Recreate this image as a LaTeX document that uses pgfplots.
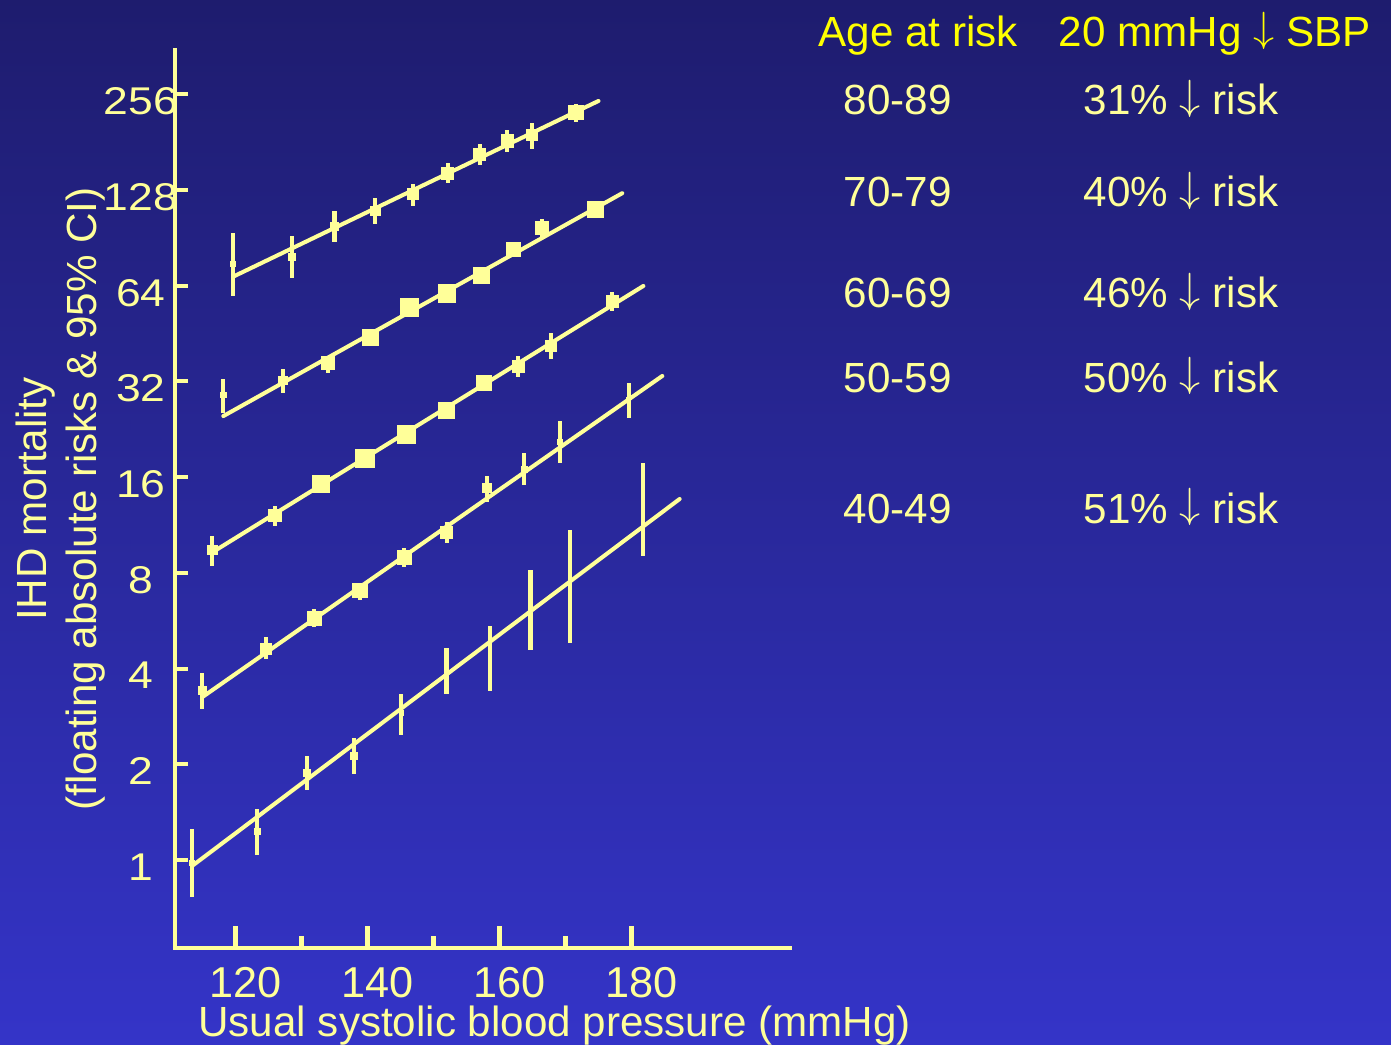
\documentclass[border=0pt]{standalone}
\usepackage{pgfplots}
\pgfplotsset{compat=1.18}
\usepackage{pgfplotstable}
\usepackage{fontspec}
\setmainfont{Liberation Sans}
\definecolor{yel}{HTML}{FFFF99}
\definecolor{hdr}{HTML}{FFFF00}
\definecolor{bgtop}{HTML}{1E1C6E}
\definecolor{bgmid}{HTML}{2929A0}
\definecolor{bgbot}{HTML}{3434C8}

% x = SBP, y = IHD mortality, lo/hi = 95% CI, w = marker width (px)
\pgfplotstableread{
x y lo hi w
119.67 74.8 59.4 93.6 5
128.6 79.0 67.6 92.0 7
135.0 98.2 87.7 110.0 8
141.2 110.0 100.1 120.6 10
146.9 124.2 114.3 133.8 12
152.15 144.6 134.5 156.1 13
157.0 165.4 153.5 178.4 13
161.2 182.7 168.3 197.8 13
164.9 190.8 172.8 207.7 12
171.6 224.2 209.2 238.8 15
}\tabE
\pgfplotstableread{
x y lo hi w
118.15 29.0 25.4 32.5 6
127.24 32.2 29.4 35.0 9
134.06 36.5 34.1 38.6 14
140.5 44.1 42.8 45.4 17
146.4 54.8 53.2 56.4 19
152.05 60.6 58.8 62.4 19
157.3 68.9 66.8 71.0 17
162.1 83.0 80.5 85.5 15
166.4 97.1 90.9 103.6 14
174.5 110.8 107.5 114.1 17
}\tabS
\pgfplotstableread{
x y lo hi w
116.5 9.44 8.43 10.47 10
125.98 12.1 11.24 12.99 13
132.95 15.2 14.7 15.7 18
139.6 18.3 17.8 18.8 20
145.9 21.8 21.2 22.4 19
152.0 25.9 25.1 26.7 17
157.65 31.6 30.6 32.6 16
162.85 35.6 33.0 38.5 13
167.76 41.4 37.6 45.4 12
177.1 57.0 53.3 61.3 13
}\tabX
\pgfplotstableread{
x y lo hi w
114.97 3.41 2.98 3.87 8
124.6 4.60 4.28 5.04 12
131.94 5.76 5.40 6.15 15
138.86 7.02 6.57 7.42 15
145.58 8.96 8.37 9.56 15
152.0 10.73 9.91 11.59 13
158.06 14.77 13.4 16.17 9
163.76 16.94 15.13 19.1 6
169.17 20.7 17.77 24.0 5
179.6 28.0 24.5 31.6 4
}\tabF
\pgfplotstableread{
x y lo hi w
113.4 0.978 0.763 1.249 5
123.3 1.231 1.037 1.443 6
130.8 1.879 1.663 2.124 7
138.0 2.124 1.866 2.42 7
145.1 2.90 2.473 3.319 4
151.97 3.92 3.326 4.65 4
158.5 4.30 3.41 5.43 3
164.7 6.04 4.56 8.17 3
170.67 7.50 4.80 10.93 3
181.8 11.37 9.07 17.67 3
}\tabV

\pgfplotsset{
  ptstyle/.style={
    only marks, mark=square*, scatter,
    scatter/use mapped color={draw=yel, fill=yel},
    visualization depends on={\thisrow{w}*0.13 \as \ms},
    scatter/@pre marker code/.append style={/tikz/mark size=\ms pt, /tikz/line width=0.2pt},
    error bars/y dir=both, error bars/y explicit, error bars/error mark=none,
    error bars/error bar style={line width=1.15pt, color=yel},
  },
  fitstyle/.style={yel, line width=1.15pt, line cap=round, no marks},
}
\newcommand{\pts}[1]{\addplot[ptstyle] table[x=x, y=y, y error plus expr=\thisrow{hi}-\thisrow{y}, y error minus expr=\thisrow{y}-\thisrow{lo}]{#1};}
\newcommand{\dn}{\raisebox{0.12em}{$\downarrow$}}

\begin{document}
\begin{tikzpicture}[x=1cm,y=1cm]
\useasboundingbox (0,0) rectangle (13.91,10.44);
\shade[top color=bgtop, middle color=bgmid, bottom color=bgbot] (0,0) rectangle (13.91,10.44);
\begin{axis}[
  at={(1.75cm,0.96cm)}, anchor=south west,
  scale only axis, width=6.15cm, height=8.98cm,
  clip=false,
  /pgf/number format/assume math mode=true,
  xmin=110.83, xmax=204.02,
  ymode=log, log basis y=2, ymin=0.5287, ymax=353,
  axis lines=left, axis line style={-, line width=1.15pt, color=yel, line cap=rect},
  tick align=inside,
  xtick={120,140,160,180}, minor xtick={130,150,170},
  major tick length=0.22cm, minor tick length=0.12cm,
  tick style={line width=1.15pt, color=yel},
  minor tick style={line width=1.15pt, color=yel},
  xticklabel style={font=\fontsize{12.3}{14}\selectfont, color=yel, anchor=base, inner sep=0pt, yshift=-0.49cm, xshift=0.1cm},
  ytick=\empty,
  extra y ticks={1,2,4,8,16,32,64,128,256},
  extra y tick labels={1,2,4,8,16,32,64,128,256},
  extra y tick style={major tick length=0.13cm, tick style={line width=1.15pt, color=yel},
    yticklabel style={font=\fontsize{11}{13}\selectfont, color=yel, anchor=center, xshift=-0.34cm, yshift=-0.07cm, xscale=1.15}},
  xlabel={Usual systolic blood pressure (mmHg)},
  every axis x label/.style={at={(axis description cs:0.6174,-0.099)}, anchor=base, inner sep=0pt, font=\fontsize{12}{14}\selectfont, color=yel},
  ylabel={IHD mortality\\(floating absolute risks \& 95\% CI)},
  every axis y label/.style={at={(axis description cs:-0.1854,0.5)}, rotate=90, anchor=center, align=center, font=\fontsize{12}{14.2}\selectfont, color=yel},
]
% fitted lines
\addplot[fitstyle] coordinates {(119.67,68.4) (175.0,244.0)};
\addplot[fitstyle] coordinates {(118.15,24.9) (178.6,125.1)};
\addplot[fitstyle] coordinates {(116.4,9.26) (181.8,63.9)};
\addplot[fitstyle] coordinates {(115.03,3.26) (184.67,33.3)};
\addplot[fitstyle] coordinates {(113.4,0.957) (187.3,13.66)};
% points with 95% CI
\pts{\tabE}
\pts{\tabS}
\pts{\tabX}
\pts{\tabF}
\pts{\tabV}
\end{axis}
% right-hand table
\begin{scope}[every node/.style={anchor=base west, inner sep=0pt, font=\fontsize{12}{14}\selectfont}]
\node[color=hdr] at (8.18,9.97) {Age at risk};
\node[color=hdr] at (10.58,9.97) {20 mmHg \dn{} SBP};
\node[color=yel] at (8.43,9.29) {80-89};
\node[color=yel] at (10.83,9.29) {31\% \dn{} risk};
\node[color=yel] at (8.43,8.37) {70-79};
\node[color=yel] at (10.83,8.37) {40\% \dn{} risk};
\node[color=yel] at (8.43,7.36) {60-69};
\node[color=yel] at (10.83,7.36) {46\% \dn{} risk};
\node[color=yel] at (8.43,6.52) {50-59};
\node[color=yel] at (10.83,6.52) {50\% \dn{} risk};
\node[color=yel] at (8.43,5.21) {40-49};
\node[color=yel] at (10.83,5.21) {51\% \dn{} risk};
\end{scope}
\end{tikzpicture}
\end{document}
